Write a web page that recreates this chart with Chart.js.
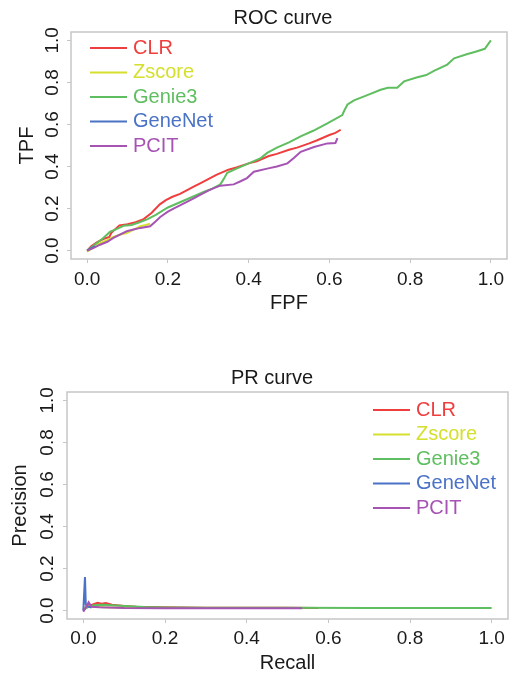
<!DOCTYPE html>
<html>
<head>
<meta charset="utf-8">
<title>ROC and PR curves</title>
<script src="https://cdn.jsdelivr.net/npm/chart.js@4/dist/chart.umd.min.js"></script>
<style>
  body { margin: 0; background: #fff; }
  canvas { display: block; }
</style>
</head>
<body>
<canvas id="roc" width="510" height="330"></canvas>
<canvas id="pr" width="510" height="346"></canvas>
<script>
// methods, in legend order
const methods = ["CLR", "Zscore", "Genie3", "GeneNet", "PCIT"];
const methodColors = ["#ef3e3e", "#d5e02e", "#5fbe5f", "#4a72c6", "#a653b4"];

// tick values, both axes of both plots
const tickValues = [0, 0.2, 0.4, 0.6, 0.8, 1.0];

// ROC curve: [FPF, TPF]
const rocCLR = [[0,0],[0.01,0.02],[0.025,0.04],[0.04,0.055],[0.055,0.065],[0.06,0.085],[0.08,0.12],[0.1,0.125],[0.12,0.135],[0.14,0.15],[0.16,0.18],[0.18,0.22],[0.195,0.24],[0.21,0.255],[0.23,0.27],[0.25,0.29],[0.265,0.305],[0.28,0.32],[0.3,0.34],[0.32,0.36],[0.35,0.385],[0.37,0.395],[0.4,0.415],[0.42,0.425],[0.45,0.45],[0.47,0.46],[0.5,0.48],[0.52,0.49],[0.55,0.51],[0.57,0.525],[0.6,0.55],[0.615,0.56],[0.628,0.575]];
const rocZscore = [[0,-0.005],[0.015,0.015],[0.032,0.036],[0.05,0.05],[0.065,0.065],[0.08,0.075],[0.098,0.084],[0.115,0.1],[0.132,0.116],[0.145,0.122],[0.156,0.128]];
const rocGenie3 = [[0,0],[0.02,0.03],[0.04,0.06],[0.057,0.09],[0.07,0.1],[0.09,0.118],[0.11,0.122],[0.13,0.135],[0.15,0.15],[0.17,0.17],[0.2,0.205],[0.23,0.23],[0.26,0.255],[0.29,0.28],[0.31,0.295],[0.33,0.315],[0.338,0.34],[0.347,0.37],[0.37,0.39],[0.4,0.415],[0.43,0.44],[0.446,0.465],[0.47,0.49],[0.5,0.515],[0.53,0.545],[0.56,0.57],[0.595,0.605],[0.632,0.645],[0.638,0.67],[0.645,0.695],[0.661,0.715],[0.694,0.74],[0.727,0.765],[0.745,0.775],[0.768,0.775],[0.785,0.805],[0.818,0.825],[0.84,0.835],[0.859,0.855],[0.892,0.885],[0.909,0.915],[0.942,0.935],[0.96,0.945],[0.985,0.96],[1.0,1.0]];
const rocGeneNet = [[0,0],[0.01,0.012],[0.02,0.02]];
const rocPCIT = [[0,0],[0.015,0.012],[0.032,0.028],[0.05,0.042],[0.065,0.06],[0.08,0.075],[0.098,0.092],[0.115,0.1],[0.132,0.108],[0.156,0.116],[0.17,0.14],[0.181,0.16],[0.2,0.185],[0.214,0.2],[0.23,0.215],[0.247,0.232],[0.265,0.25],[0.28,0.265],[0.3,0.285],[0.314,0.297],[0.33,0.309],[0.363,0.315],[0.38,0.33],[0.396,0.345],[0.413,0.375],[0.446,0.39],[0.47,0.4],[0.496,0.415],[0.512,0.44],[0.529,0.47],[0.562,0.493],[0.595,0.51],[0.615,0.512],[0.62,0.535]];

// PR curve: [Recall, Precision]
const prCLR = [[0,0],[0.003,0.01],[0.008,0.02],[0.015,0.022],[0.025,0.03],[0.035,0.037],[0.045,0.033],[0.055,0.036],[0.07,0.028],[0.1,0.022],[0.13,0.018],[0.2,0.016],[0.3,0.014],[0.4,0.013],[0.5,0.013],[0.576,0.012]];
const prZscore = [[0,0.005],[0.005,0.015],[0.015,0.02],[0.03,0.018],[0.05,0.016],[0.08,0.015],[0.128,0.014]];
const prGenie3 = [[0,0],[0.005,0.01],[0.015,0.02],[0.03,0.027],[0.05,0.028],[0.07,0.026],[0.1,0.022],[0.15,0.017],[0.2,0.015],[0.3,0.014],[0.5,0.013],[0.7,0.012],[1.0,0.012]];
const prGeneNet = [[0,0],[0.004,0.16],[0.006,0.03],[0.01,0.02],[0.02,0.015]];
const prPCIT = [[0,-0.005],[0.006,0.015],[0.013,0.04],[0.02,0.018],[0.04,0.016],[0.08,0.014],[0.1,0.012],[0.2,0.011],[0.3,0.011],[0.4,0.011],[0.536,0.011]];

const textColor = "#1a1a1a";
const boxColor = "#c6c6c6";
const fontFamily = "'Liberation Sans', Arial, sans-serif";
Chart.defaults.font.family = fontFamily;

// box, title, rotated y tick labels and line legend, R style
const rPlotDecor = {
    id: "rPlotDecor",
    afterDraw(chart, args, opts) {
        const ctx = chart.ctx;
        const a = chart.chartArea;
        ctx.save();
        ctx.strokeStyle = boxColor;
        ctx.lineWidth = 1.5;
        ctx.strokeRect(a.left, a.top, a.right - a.left, a.bottom - a.top);

        ctx.fillStyle = textColor;
        ctx.textAlign = "center";
        ctx.textBaseline = "middle";
        ctx.font = "20px " + fontFamily;
        ctx.fillText(opts.title, opts.titleX, opts.titleY);

        const yScale = chart.scales.y;
        ctx.font = "19px " + fontFamily;
        tickValues.forEach((v) => {
            ctx.save();
            ctx.translate(opts.yLabelX, yScale.getPixelForValue(v));
            ctx.rotate(-Math.PI / 2);
            ctx.fillText(v.toFixed(1), 0, 0);
            ctx.restore();
        });

        ctx.font = "20px " + fontFamily;
        ctx.textAlign = "left";
        chart.data.datasets.forEach((ds, i) => {
            const ly = opts.legendY + i * 24.5;
            ctx.strokeStyle = ds.borderColor;
            ctx.lineWidth = 2;
            ctx.beginPath();
            ctx.moveTo(opts.legendX, ly);
            ctx.lineTo(opts.legendX + 37, ly);
            ctx.stroke();
            ctx.fillStyle = ds.borderColor;
            ctx.fillText(ds.label, opts.legendX + 43, ly);
        });
        ctx.restore();
    },
};

function makeCurveChart(id, series, o) {
    return new Chart(document.getElementById(id), {
        type: "line",
        data: {
            datasets: series.map((pts, i) => ({
                label: methods[i],
                data: pts.map((p) => ({ x: p[0], y: p[1] })),
                borderColor: methodColors[i],
                borderWidth: 2,
                pointRadius: 0,
                tension: 0,
                order: series.length - i,
            })),
        },
        options: {
            responsive: false,
            animation: false,
            layout: { padding: { left: 0, right: o.padRight, top: o.padTop, bottom: 0 } },
            plugins: {
                legend: { display: false },
                tooltip: { enabled: false },
                rPlotDecor: o.decor,
            },
            scales: {
                x: {
                    type: "linear",
                    min: -0.04,
                    max: 1.04,
                    afterBuildTicks: (s) => { s.ticks = tickValues.map((v) => ({ value: v })); },
                    afterFit: (s) => { s.height = o.xHeight; },
                    grid: { drawOnChartArea: false, drawTicks: true, tickLength: 4, color: boxColor },
                    border: { display: false },
                    ticks: {
                        color: textColor,
                        font: { size: 19 },
                        padding: o.xTickPad,
                        maxRotation: 0,
                        callback: (v) => v.toFixed(1),
                    },
                    title: {
                        display: true,
                        text: o.xTitle,
                        color: textColor,
                        font: { size: 20 },
                        padding: { top: 0, bottom: o.xTitlePad },
                    },
                },
                y: {
                    type: "linear",
                    min: -0.04,
                    max: 1.04,
                    afterBuildTicks: (s) => { s.ticks = tickValues.map((v) => ({ value: v })); },
                    afterFit: (s) => { s.width = o.yWidth; },
                    grid: { drawOnChartArea: false, drawTicks: true, tickLength: 4, color: boxColor },
                    border: { display: false },
                    ticks: { display: false },
                    title: {
                        display: true,
                        text: o.yTitle,
                        color: textColor,
                        font: { size: 20 },
                        padding: { top: o.yTitlePad, bottom: 0 },
                    },
                },
            },
        },
        plugins: [rPlotDecor],
    });
}

makeCurveChart("roc", [rocCLR, rocZscore, rocGenie3, rocGeneNet, rocPCIT], {
    padTop: 32, padRight: 3, xHeight: 71, yWidth: 71,
    xTickPad: 5, xTitle: "FPF", xTitlePad: 15, yTitle: "TPF", yTitlePad: 15,
    decor: { title: "ROC curve", titleX: 283, titleY: 18, yLabelX: 53, legendX: 90, legendY: 48 },
});

makeCurveChart("pr", [prCLR, prZscore, prGenie3, prGeneNet, prPCIT], {
    padTop: 62, padRight: 2, xHeight: 57, yWidth: 67,
    xTickPad: 4, xTitle: "Recall", xTitlePad: 1, yTitle: "Precision", yTitlePad: 8,
    decor: { title: "PR curve", titleX: 272, titleY: 48, yLabelX: 48, legendX: 373, legendY: 80 },
});
</script>
</body>
</html>
